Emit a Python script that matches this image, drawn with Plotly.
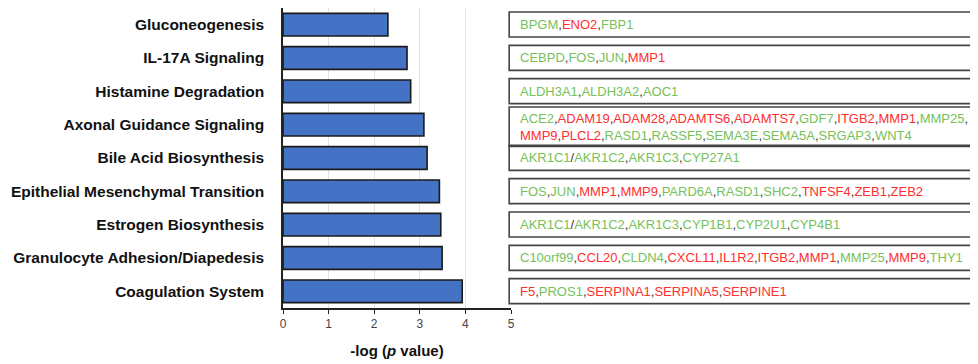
import plotly.graph_objects as go

pathways = [
    "Gluconeogenesis",
    "IL-17A Signaling",
    "Histamine Degradation",
    "Axonal Guidance Signaling",
    "Bile Acid Biosynthesis",
    "Epithelial Mesenchymal Transition",
    "Estrogen Biosynthesis",
    "Granulocyte Adhesion/Diapedesis",
    "Coagulation System",
]
neg_log_p = [2.30, 2.72, 2.80, 3.09, 3.16, 3.43, 3.46, 3.49, 3.93]

genes = [
    ["BPGM", "ENO2", "FBP1"],
    ["CEBPD", "FOS", "JUN", "MMP1"],
    ["ALDH3A1", "ALDH3A2", "AOC1"],
    ["ACE2", "ADAM19", "ADAM28", "ADAMTS6", "ADAMTS7", "GDF7", "ITGB2", "MMP1", "MMP25",
     "MMP9", "PLCL2", "RASD1", "RASSF5", "SEMA3E", "SEMA5A", "SRGAP3", "WNT4"],
    ["AKR1C1/AKR1C2", "AKR1C3", "CYP27A1"],
    ["FOS", "JUN", "MMP1", "MMP9", "PARD6A", "RASD1", "SHC2", "TNFSF4", "ZEB1", "ZEB2"],
    ["AKR1C1/AKR1C2", "AKR1C3", "CYP1B1", "CYP2U1", "CYP4B1"],
    ["C10orf99", "CCL20", "CLDN4", "CXCL11", "IL1R2", "ITGB2", "MMP1", "MMP25", "MMP9", "THY1"],
    ["F5", "PROS1", "SERPINA1", "SERPINA5", "SERPINE1"],
]
# "up" = red, "down" = green
regulation = [
    ["down", "up", "down"],
    ["down", "down", "down", "up"],
    ["down", "down", "down"],
    ["down", "up", "up", "up", "up", "down", "up", "up", "down",
     "up", "up", "down", "down", "down", "down", "down", "down"],
    ["down", "down", "down"],
    ["down", "down", "up", "up", "down", "down", "down", "up", "up", "up"],
    ["down", "down", "down", "down", "down"],
    ["down", "up", "down", "up", "up", "up", "up", "down", "up", "down"],
    ["up", "down", "up", "up", "up"],
]

# layout / style settings
COLORS = {"up": "#FF2E2E", "down": "#76C15A"}
SEP_COLOR = "#3a3a3a"
LINE_BREAK_AFTER = {3: 9}  # wrap long gene list after this many genes
LABEL_FONT = "Liberation Sans, Arial, sans-serif"
TEXT_FONT = "Liberation Sans, Arial, sans-serif"


def gene_html(i):
    sep = f'<span style="color:{SEP_COLOR}">,</span>'
    parts = []
    for g, r in zip(genes[i], regulation[i]):
        col = COLORS[r]
        g_html = g.replace("/", f'</span><span style="color:{SEP_COLOR}">/</span><span style="color:{col}">')
        parts.append(f'<span style="color:{col}">{g_html}</span>')
    out = ""
    brk = LINE_BREAK_AFTER.get(i)
    for k, p in enumerate(parts):
        out += p
        if k < len(parts) - 1:
            out += sep
            if brk is not None and k + 1 == brk:
                out += "<br>"
    return out


fig = go.Figure()
fig.add_trace(go.Bar(
    x=neg_log_p,
    y=pathways,
    orientation="h",
    width=0.68,
    marker=dict(color="#4472C4", line=dict(color="#1b1b1b", width=1.6)),
    hoverinfo="x+y",
))

shapes = []
annotations = []
for i in range(len(pathways)):
    nlines = 1 + (1 if i in LINE_BREAK_AFTER else 0)
    top = i - 0.38 - 0.15 * (nlines - 1)
    bot = i + 0.37 + 0.28 * (nlines - 1)
    shapes.append(dict(
        type="rect", xref="paper", yref="y",
        x0=0.992, x1=3.2, y0=top, y1=bot,
        line=dict(color="#444444", width=1.6),
        fillcolor="rgba(0,0,0,0)", layer="above",
    ))
    annotations.append(dict(
        xref="paper", yref="y", x=1.03, y=(top + bot) / 2,
        xanchor="left", yanchor="middle", align="left",
        text=gene_html(i), showarrow=False,
        font=dict(family=TEXT_FONT, size=13),
    ))

# page body has an 8px default margin; figure is sized to fill the rest
fig.update_layout(
    width=970, height=356,
    margin=dict(l=275, r=467, t=0, b=56),
    plot_bgcolor="white", paper_bgcolor="white",
    showlegend=False,
    shapes=shapes,
    annotations=annotations,
    xaxis=dict(
        range=[0, 5], dtick=1, tick0=0, automargin=False,
        showgrid=True, gridcolor="#e2e2e2", gridwidth=1,
        showline=True, linecolor="#222222", linewidth=1.5,
        ticks="outside", ticklen=4, tickcolor="#222222",
        tickfont=dict(family=LABEL_FONT, size=12, color="#444444"),
        title=dict(text="-log (<i>p</i> value)",
                   font=dict(family=LABEL_FONT, size=15, color="#111111", weight="bold"),
                   standoff=15),
        zeroline=False,
    ),
    yaxis=dict(
        categoryorder="array", categoryarray=pathways,
        autorange="reversed", automargin=False,
        showline=True, linecolor="#222222", linewidth=1.5,
        ticks="", ticklabelstandoff=14,
        tickfont=dict(family=LABEL_FONT, size=15.5, color="#111111", weight="bold"),
        showgrid=False,
    ),
)

fig.write_html("out.html")
